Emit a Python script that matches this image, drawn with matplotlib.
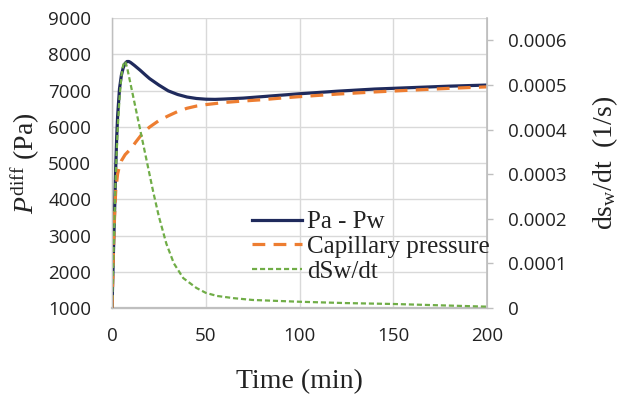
import matplotlib
matplotlib.use('Agg')
import matplotlib.pyplot as plt
from matplotlib.ticker import FuncFormatter

# values
t_pa = [0, 0.5, 1, 1.5, 2, 2.5, 3, 4, 5, 6, 7, 8, 9, 10, 12, 15, 18, 20, 25, 30,
        35, 40, 45, 50, 55, 60, 70, 80, 90, 100, 120, 140, 160, 180, 200]
pa_pw = [1000, 2000, 3000, 3900, 4900, 5700, 6300, 7050, 7420, 7630, 7750, 7800, 7800, 7770,
         7690, 7560, 7420, 7330, 7150, 6990, 6890, 6820, 6780, 6760, 6755, 6765, 6790,
         6830, 6870, 6910, 6980, 7040, 7080, 7120, 7150]

t_cap = [0, 0.5, 1, 1.5, 2, 3, 4, 5, 7, 10, 13, 16, 20, 25, 30, 35, 40, 45, 50, 60,
         70, 80, 90, 100, 120, 140, 160, 180, 200]
cap_p = [1000, 2000, 3000, 3700, 4250, 4700, 4920, 5060, 5230, 5390, 5600, 5800, 5990, 6170,
         6300, 6420, 6510, 6570, 6610, 6670, 6710, 6745, 6790, 6830, 6900, 6960, 7010,
         7060, 7100]

t_dsw = [0, 1, 2, 3, 4, 5, 6, 7, 8, 10, 12, 14, 16, 18, 20, 22, 25, 29, 33, 38, 45,
         50, 56, 65, 75, 100, 125, 150, 175, 200]
dsw_dt = [0, 0.00015, 0.0003, 0.0004, 0.00047, 0.00052, 0.000545, 0.000553, 0.00054,
          0.0005, 0.00046, 0.00042, 0.00038, 0.00034, 0.0003, 0.00026, 0.000205, 0.000144,
          0.0001, 0.000067, 0.000045, 0.000034, 0.000027, 0.000022, 0.000018, 0.000014,
          0.000011, 0.000009, 0.000006, 0.000003]

x_ticks = [0, 50, 100, 150, 200]
left_ticks = [1000, 2000, 3000, 4000, 5000, 6000, 7000, 8000, 9000]
right_ticks = [0, 0.0001, 0.0002, 0.0003, 0.0004, 0.0005, 0.0006]

navy = '#1f2a5c'
orange = '#ed7d31'
green = '#70ad47'
grid_c = '#d9d9d9'
spine_c = '#bfbfbf'
serif = 'Liberation Serif'
sans = 'Open Sans'

plt.rcParams['mathtext.fontset'] = 'custom'
plt.rcParams['mathtext.rm'] = serif
plt.rcParams['mathtext.it'] = serif + ':italic'

fig = plt.figure(figsize=(6.19, 3.95), dpi=100)
ax = fig.add_axes([112/619, 1-308/395, 375/619, 290/395])
ax2 = ax.twinx()

l1, = ax.plot(t_pa, pa_pw, color=navy, lw=2.3, label='Pa - Pw', zorder=3)
l2, = ax.plot(t_cap, cap_p, color=orange, lw=2.3, dashes=(4, 2.6),
              label='Capillary pressure', zorder=3)
l3, = ax2.plot(t_dsw, dsw_dt, color=green, lw=1.6, dashes=(2.3, 1.3), label='dSw/dt')

ax.set_xlim(0, 200)
ax.set_ylim(1000, 9000)
ax.set_xticks(x_ticks)
ax.set_yticks(left_ticks)
ax2.set_ylim(0, 0.00065)
ax2.set_yticks(right_ticks)
ax2.yaxis.set_major_formatter(FuncFormatter(lambda v, p: '0' if v == 0 else f'{v:.4f}'))

ax.grid(True, color=grid_c, lw=1.0)
ax.set_axisbelow(True)

for a in (ax, ax2):
    a.spines['top'].set_visible(False)
    for s in ('left', 'right', 'bottom'):
        a.spines[s].set_color(spine_c)
ax.spines['bottom'].set_linewidth(1.6)
ax.spines['left'].set_linewidth(1.0)
ax2.spines['right'].set_linewidth(1.2)

ax.tick_params(axis='both', length=0, labelsize=13.5, colors='#222222', pad=15)
ax.tick_params(axis='x', pad=14)
ax2.tick_params(axis='y', length=4, width=1, color=spine_c, labelsize=13.5,
                labelcolor='#222222', pad=11)
for lab in ax.get_xticklabels() + ax.get_yticklabels() + ax2.get_yticklabels():
    lab.set_fontfamily(sans)

ax.set_xlabel('Time (min)', fontfamily=serif, fontsize=20, labelpad=17, color='#222222')
ax.set_ylabel(r'$\mathit{P}^{\mathrm{diff}}$ (Pa)', fontfamily=serif, fontsize=20,
              labelpad=4, color='#222222')
ax2.set_ylabel(r'ds$_{\mathrm{w}}$/dt  (1/s)', fontfamily=serif, fontsize=20,
               labelpad=17, color='#222222')

leg = ax2.legend(handles=[l1, l2, l3], loc='upper left',
                 bbox_to_anchor=((252-112)/375, (308-211)/290), frameon=False,
                 borderpad=0, borderaxespad=0, labelspacing=0.08, handlelength=2.0,
                 handletextpad=0.2, prop={'family': serif, 'size': 18})
for txt in leg.get_texts():
    txt.set_color('#222222')

fig.savefig('out.png', dpi=100)
